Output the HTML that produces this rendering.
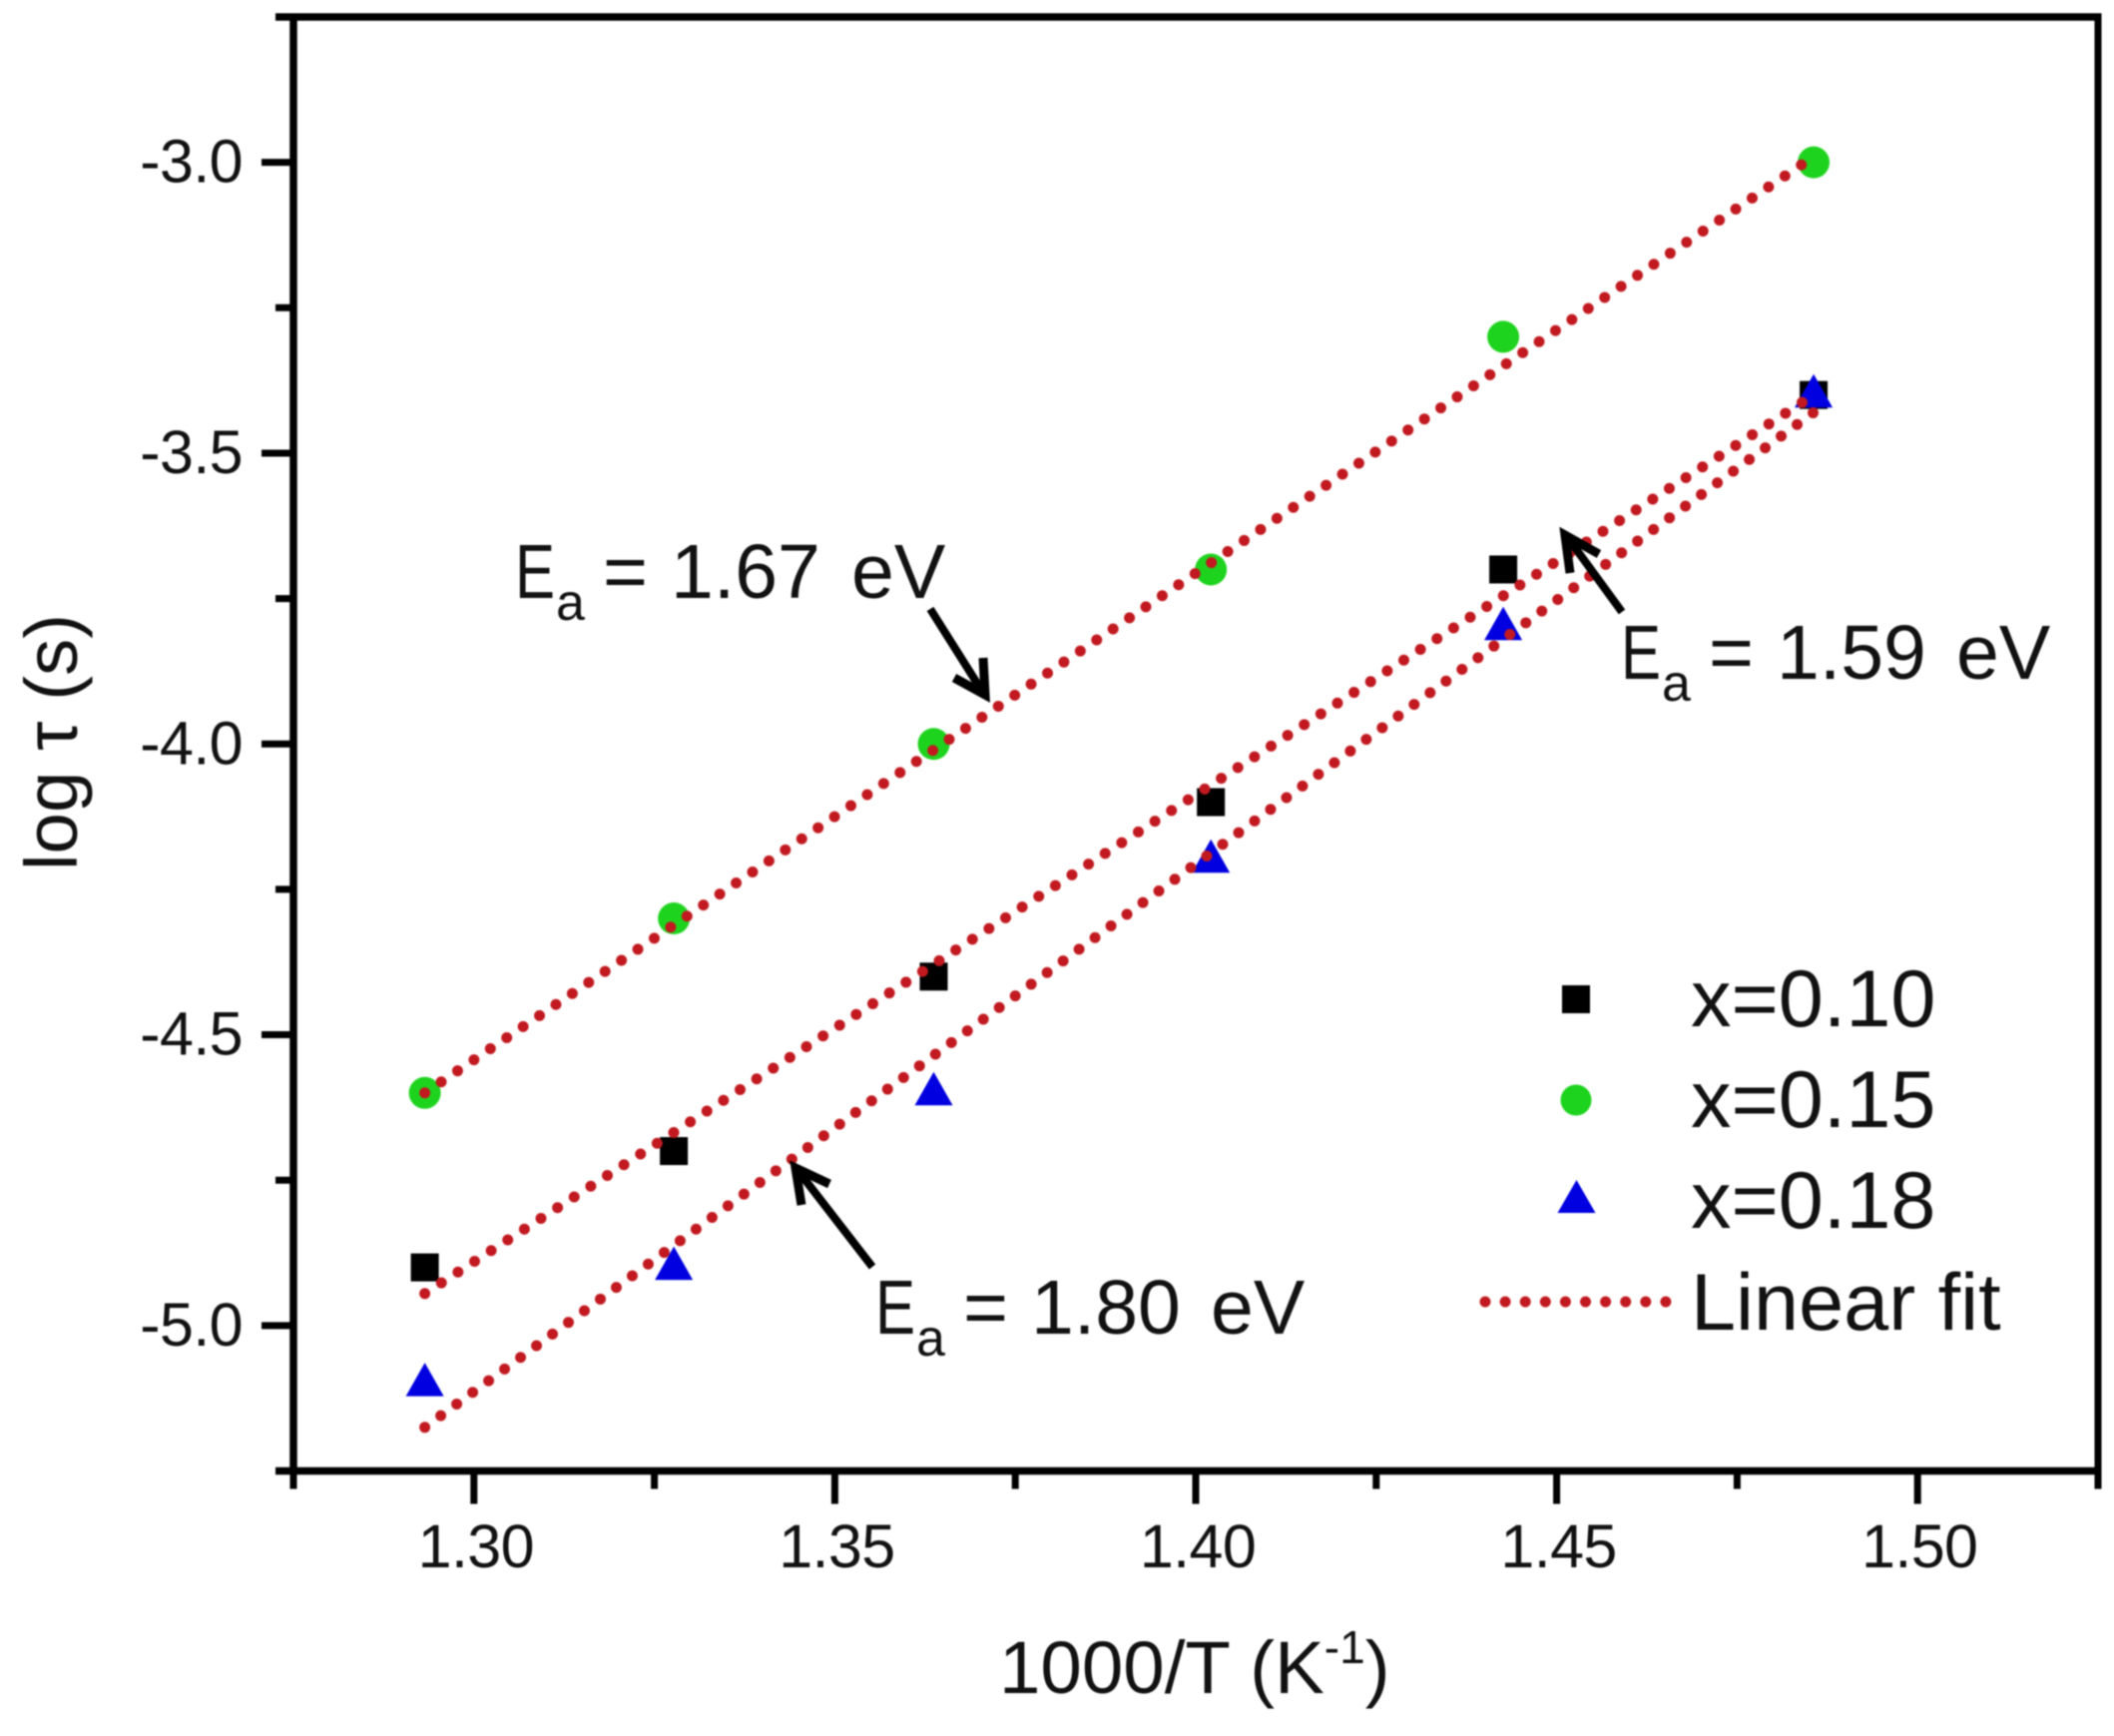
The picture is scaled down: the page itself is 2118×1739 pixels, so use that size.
<!DOCTYPE html>
<html>
<head>
<meta charset="utf-8">
<title>log tau vs 1000/T</title>
<style>
html,body{margin:0;padding:0;background:#fff;}
svg{display:block;filter:blur(0.7px);}
text{font-family:"Liberation Sans",sans-serif;fill:#111;}
.tick{font-size:61px;letter-spacing:-0.6px;}
.leg{font-size:81px;}
.ann{font-size:77px;}
.sub{font-size:52px;}
</style>
</head>
<body>
<svg id="chart" xmlns="http://www.w3.org/2000/svg" width="2118" height="1739" viewBox="0 0 2118 1739">
  <rect x="0" y="0" width="2118" height="1739" fill="#fff"/>
  <g id="frame"></g>
  <g id="ticks"></g>
  <g id="tick-labels"></g>
  <g id="markers"></g>
  <g id="fits"></g>

  <text x="1001" y="1696" font-size="74.5" xml:space="preserve">1000/T (K<tspan font-size="46" dy="-30">-1</tspan><tspan dy="30">)</tspan></text>
  <text transform="translate(77,872) rotate(-90)" font-size="74.5" xml:space="preserve">log τ (s)</text>

  <g>
    <text class="ann" transform="translate(516,599) scale(0.78,1)">E</text>
    <text class="sub" x="557" y="621">a</text>
    <text class="ann" y="599"><tspan x="604">=</tspan><tspan x="672">1.67</tspan><tspan x="853">eV</tspan></text>
  </g>
  <g>
    <text class="ann" transform="translate(1624,680) scale(0.78,1)">E</text>
    <text class="sub" x="1665" y="702">a</text>
    <text class="ann" y="680"><tspan x="1712">=</tspan><tspan x="1780">1.59</tspan><tspan x="1960">eV</tspan></text>
  </g>
  <g>
    <text class="ann" transform="translate(877,1336) scale(0.78,1)">E</text>
    <text class="sub" x="918" y="1358">a</text>
    <text class="ann" y="1336"><tspan x="965">=</tspan><tspan x="1033">1.80</tspan><tspan x="1213">eV</tspan></text>
  </g>

  <g stroke="#000" stroke-width="8" fill="none" stroke-linecap="butt">
    <line x1="932" y1="610" x2="985" y2="694"/>
    <path d="M956 679 L987 696 L985 659" stroke-width="9"/>
  </g>
  <g stroke="#000" stroke-width="8" fill="none" stroke-linecap="butt">
    <line x1="1625" y1="613" x2="1571" y2="539"/>
    <path d="M1602 555 L1568 536 L1573 574" stroke-width="9"/>
  </g>
  <g stroke="#000" stroke-width="8" fill="none" stroke-linecap="butt">
    <line x1="874" y1="1269" x2="799" y2="1172"/>
    <path d="M831 1186 L797 1170 L803 1207" stroke-width="9"/>
  </g>

  <g>
    <rect x="1565" y="987" width="28" height="28" fill="#000"/>
    <text class="leg" x="1694" y="1028">x=0.10</text>
    <circle cx="1579" cy="1102" r="15.5" fill="#1ed31e"/>
    <text class="leg" x="1694" y="1129">x=0.15</text>
    <polygon points="1579.5,1182 1598.5,1215 1560.5,1215" fill="#0000e0"/>
    <text class="leg" x="1694" y="1230">x=0.18</text>
    <line x1="1488" y1="1304" x2="1680" y2="1304" stroke="#c1191f" stroke-width="11" stroke-linecap="round" stroke-dasharray="0 20.1"/>
    <text class="leg" x="1694" y="1332">Linear fit</text>
  </g>
</svg>
<script>
// Data values
const temperatures = [1.2932, 1.3277, 1.3637, 1.4021, 1.4426, 1.4856];
const seriesX010 = [-4.9, -4.7, -4.4, -4.1, -3.7, -3.4];
const seriesX015 = [-4.6, -4.3, -4.0, -3.7, -3.3, -3.0];
const seriesX018 = [-5.1, -4.9, -4.6, -4.2, -3.8, -3.4];
const fitEnds = [1.2932, 1.4856];
const fitX010 = [-4.945, -3.4];
const fitX015 = [-4.6, -2.99];
const fitX018 = [-5.175, -3.43];
const xMajorTicks = ['1.30', '1.35', '1.40', '1.45', '1.50'];
const xMinorTicks = [1.275, 1.325, 1.375, 1.425, 1.475, 1.525];
const yMajorTicks = ['-3.0', '-3.5', '-4.0', '-4.5', '-5.0'];
const yMinorTicks = [-2.75, -3.25, -3.75, -4.25, -4.75, -5.25];

// Axis functions
const xMin = 1.275, xMax = 1.525, yMin = -5.25, yMax = -2.75;
const left = 294, right = 2102, bottom = 1473.5, top_ = 17;
function xScale(v) { return left + (v - xMin) / (xMax - xMin) * (right - left); }
function yScale(v) { return bottom - (v - yMin) / (yMax - yMin) * (bottom - top_); }

const NS = 'http://www.w3.org/2000/svg';
function make(tag, parent, attrs) {
  const el = document.createElementNS(NS, tag);
  for (const k in attrs) el.setAttribute(k, attrs[k]);
  parent.appendChild(el);
  return el;
}

// Frame
const frame = document.getElementById('frame');
const axisLeft = make('line', frame, {x1: left, y1: top_ - 3.5, x2: left, y2: bottom + 3.5, stroke: '#000', 'stroke-width': 7.5});


const axisBottom = make('line', frame, {x1: left - 18, y1: bottom, x2: right + 3.5, y2: bottom, stroke: '#000', 'stroke-width': 7.5});


const axisTop = make('line', frame, {x1: left - 18, y1: top_, x2: right + 3.5, y2: top_, stroke: '#000', 'stroke-width': 7.5});


const axisRight = make('line', frame, {x1: right, y1: top_ - 3.5, x2: right, y2: bottom + 3.5, stroke: '#000', 'stroke-width': 7});



// Ticks
const ticks = document.getElementById('ticks');
const tickLabels = document.getElementById('tick-labels');
xMajorTicks.forEach(function (label) {
  const px = xScale(parseFloat(label));
  const t = make('line', ticks, {x1: px, y1: bottom, x2: px, y2: bottom + 33, stroke: '#000', 'stroke-width': 7});
  
  
  const txt = make('text', tickLabels, {x: px + 2, y: 1570, 'text-anchor': 'middle', class: 'tick'});
  
  
  txt.textContent = label;
});
xMinorTicks.forEach(function (v) {
  const px = xScale(v);
  const t = make('line', ticks, {x1: px, y1: bottom, x2: px, y2: bottom + 18, stroke: '#000', 'stroke-width': 7});
  
  
});
yMajorTicks.forEach(function (label) {
  const py = yScale(parseFloat(label));
  const t = make('line', ticks, {x1: left - 32, y1: py, x2: left, y2: py, stroke: '#000', 'stroke-width': 7});
  
  
  const txt = make('text', tickLabels, {x: 243, y: py + 20, 'text-anchor': 'end', class: 'tick'});
  
  
  txt.textContent = label;
});
yMinorTicks.forEach(function (v) {
  const py = yScale(v);
  const t = make('line', ticks, {x1: left - 18, y1: py, x2: left, y2: py, stroke: '#000', 'stroke-width': 7});
  
  
});

// Markers
const markers = document.getElementById('markers');
temperatures.forEach(function (t, i) {
  const px = xScale(t);
  const sq = make('rect', markers, {x: px - 14, y: yScale(seriesX010[i]) - 14, width: 28, height: 28, fill: '#000'});
  
  
});
temperatures.forEach(function (t, i) {
  const px = xScale(t);
  const c = make('circle', markers, {cx: px, cy: yScale(seriesX015[i]), r: 16, fill: '#1ed31e'});
  
  
});
temperatures.forEach(function (t, i) {
  const px = xScale(t);
  const py = yScale(seriesX018[i]);
  const pts = px + ',' + (py - 21) + ' ' + (px + 19) + ',' + (py + 12.5) + ' ' + (px - 19) + ',' + (py + 12.5);
  const tri = make('polygon', markers, {points: pts, fill: '#0000e0'});
  
  
});

// Fit lines
const fits = document.getElementById('fits');
function fitAttrs(vals) {
  return {
    x1: xScale(fitEnds[0]), y1: yScale(vals[0]),
    x2: xScale(fitEnds[1]), y2: yScale(vals[1]),
    stroke: '#c1191f', 'stroke-width': 11, 'stroke-linecap': 'round', 'stroke-dasharray': '0 19.8'
  };
}
const fit10 = make('line', fits, fitAttrs(fitX010));


const fit15 = make('line', fits, fitAttrs(fitX015));


const fit18 = make('line', fits, fitAttrs(fitX018));


</script>
</body>
</html>
